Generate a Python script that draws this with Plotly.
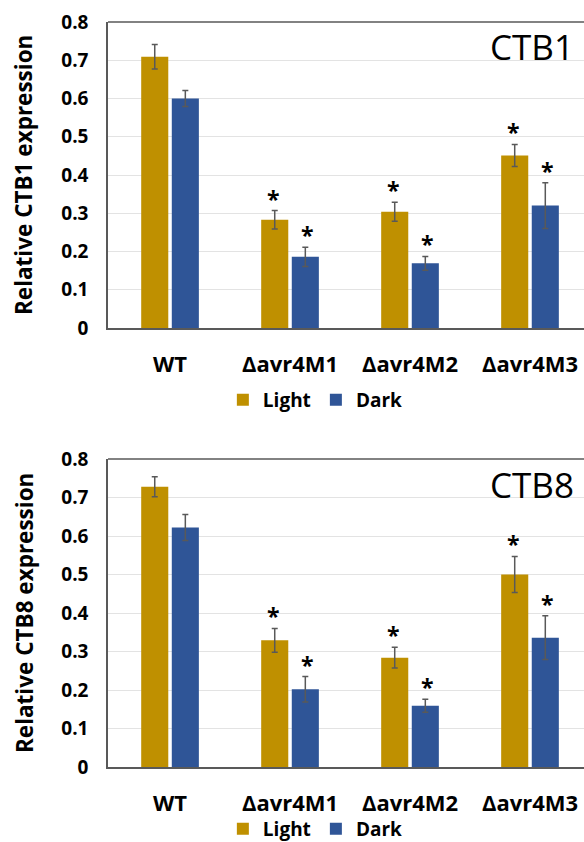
import plotly.graph_objects as go

categories = ["WT", "Δavr4M1", "Δavr4M2", "Δavr4M3"]
series_names = ["Light", "Dark"]

ctb1_light = [0.709, 0.283, 0.304, 0.451]
ctb1_light_err = [0.032, 0.024, 0.025, 0.029]
ctb1_dark = [0.600, 0.186, 0.169, 0.320]
ctb1_dark_err = [0.021, 0.025, 0.018, 0.060]
ctb1_light_sig = [False, True, True, True]
ctb1_dark_sig = [False, True, True, True]

ctb8_light = [0.728, 0.329, 0.284, 0.500]
ctb8_light_err = [0.026, 0.031, 0.027, 0.047]
ctb8_dark = [0.622, 0.202, 0.159, 0.336]
ctb8_dark_err = [0.034, 0.033, 0.017, 0.057]
ctb8_light_sig = [False, True, True, True]
ctb8_dark_sig = [False, True, True, True]

y_ticks = [0, 0.1, 0.2, 0.3, 0.4, 0.5, 0.6, 0.7, 0.8]
y_tick_labels = ["0", "0.1", "0.2", "0.3", "0.4", "0.5", "0.6", "0.7", "0.8"]

gene_names = ["CTB1", "CTB8"]

GOLD = "#BF9000"
BLUE = "#2F5597"
ERR = "#595959"
FONT = "Open Sans, Noto Sans, sans-serif"

W, H = 584, 842
fig = go.Figure()

panels = [
    dict(light=ctb1_light, le=ctb1_light_err, dark=ctb1_dark, de=ctb1_dark_err,
         ls=ctb1_light_sig, ds=ctb1_dark_sig, gene=gene_names[0],
         top_px=22, zero_px=328, legend_px=400, xa="x", ya="y", leg="legend"),
    dict(light=ctb8_light, le=ctb8_light_err, dark=ctb8_dark, de=ctb8_dark_err,
         ls=ctb8_light_sig, ds=ctb8_dark_sig, gene=gene_names[1],
         top_px=459, zero_px=767, legend_px=829, xa="x2", ya="y2", leg="legend2"),
]

left_px = 108
annotations = []
shapes = []
for i, p in enumerate(panels):
    for name, vals, errs, color in [(series_names[0], p["light"], p["le"], GOLD),
                                    (series_names[1], p["dark"], p["de"], BLUE)]:
        fig.add_trace(go.Bar(
            x=categories, y=vals, name=name, xaxis=p["xa"], yaxis=p["ya"],
            marker=dict(color=color, line=dict(width=0)),
            error_y=dict(type="data", array=errs, visible=True, color=ERR,
                         thickness=1.5, width=3),
            legend=p["leg"],
        ))
    # asterisks
    for vals, errs, sig, shift in [(p["light"], p["le"], p["ls"], -17),
                                   (p["dark"], p["de"], p["ds"], 17)]:
        for c, v, e, s in zip(categories, vals, errs, sig):
            if s:
                annotations.append(dict(
                    x=c, y=v + e, xref=p["xa"], yref=p["ya"], text="<b>*</b>",
                    showarrow=False, xshift=shift, yshift=12, yanchor="middle",
                    font=dict(family=FONT, size=23, color="black"),
                ))
    y0 = 1 - p["zero_px"] / H
    y1 = 1 - p["top_px"] / H
    ax_suffix = "" if i == 0 else "2"
    fig.update_layout(**{
        "xaxis" + ax_suffix: dict(
            domain=[left_px / W, 1.0], range=[-0.517, 3.45], anchor="y" + ax_suffix,
            showline=True, linecolor="#595959", linewidth=1.5, ticks="",
            tickfont=dict(family=FONT, size=22, color="black", weight="bold"),
            ticklabelstandoff=16, showgrid=False, fixedrange=True,
        ),
        "yaxis" + ax_suffix: dict(
            domain=[y0, y1], range=[0, 0.8], anchor="x" + ax_suffix,
            tickvals=y_ticks, ticktext=y_tick_labels,
            showline=True, linecolor="#595959", linewidth=1.5,
            showgrid=True, gridcolor="#E3E3E3", gridwidth=1.2, zeroline=False,
            tickfont=dict(family=FONT, size=19, color="black", weight="bold"),
            ticks="", ticklabelstandoff=14, fixedrange=True,
        ),
        p["leg"]: dict(
            orientation="h", x=0.54, xanchor="center",
            y=1 - p["legend_px"] / H, yanchor="middle",
            font=dict(family=FONT, size=19, color="black", weight="bold"),
            itemwidth=30, tracegroupgap=0, bgcolor="rgba(0,0,0,0)",
        ),
    })
    shapes.append(dict(type="line", xref="paper", yref="paper",
                       x0=left_px / W, x1=1.0, y0=y1, y1=y1,
                       line=dict(color="#595959", width=1.5)))
    annotations.append(dict(
        x=24 / W, y=(y0 + y1) / 2, xref="paper", yref="paper",
        text="Relative " + p["gene"] + " expression", textangle=-90,
        showarrow=False, xanchor="center", yanchor="middle",
        font=dict(family=FONT, size=22.5, color="black", weight="bold"),
    ))
    annotations.append(dict(
        x=576 / W, y=1 - (p["top_px"] + 25) / H, xref="paper", yref="paper",
        text=p["gene"], showarrow=False, xanchor="right", yanchor="middle",
        font=dict(family=FONT, size=35, color="black"),
    ))

fig.update_layout(
    width=W, height=H, margin=dict(l=0, r=0, t=0, b=0, autoexpand=False),
    paper_bgcolor="white", plot_bgcolor="white",
    barmode="group", bargap=0.49, bargroupgap=0.115,
    annotations=annotations, shapes=shapes,
)

fig.write_html(
    "out.html",
    config={"displayModeBar": False},
    post_script="document.body.style.margin='0';document.body.style.overflow='hidden';",
)
